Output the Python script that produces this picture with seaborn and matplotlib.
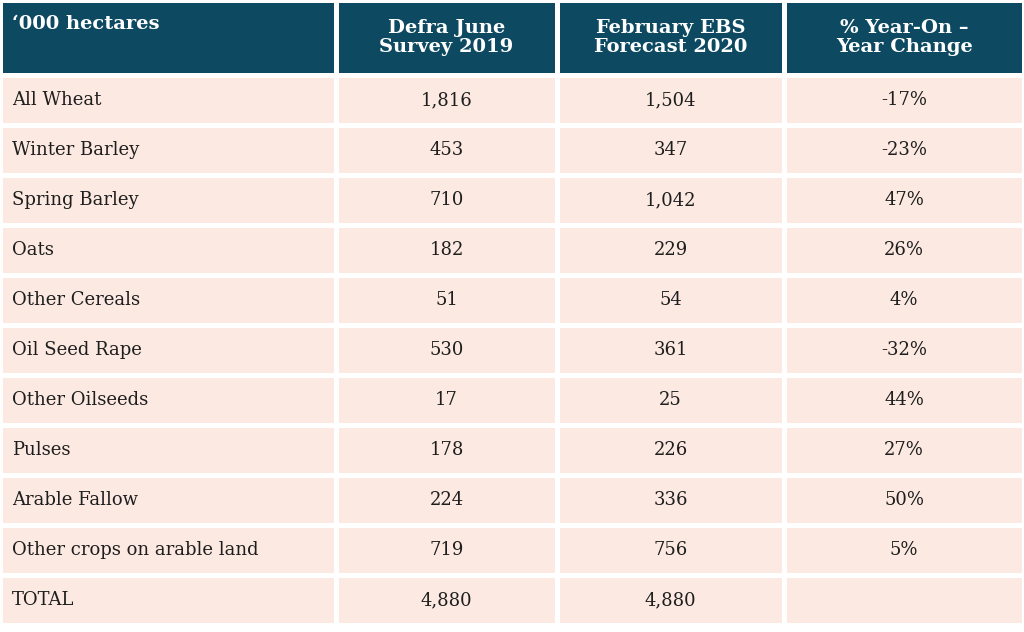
import numpy as np
import matplotlib
matplotlib.use("Agg")
import seaborn as sns
from matplotlib import pyplot as plt

header = ["\u2018000 hectares", "Defra June\nSurvey 2019", "February EBS\nForecast 2020", "% Year-On \u2013\nYear Change"]
crops = ["All Wheat", "Winter Barley", "Spring Barley", "Oats", "Other Cereals", "Oil Seed Rape",
         "Other Oilseeds", "Pulses", "Arable Fallow", "Other crops on arable land", "TOTAL"]
survey_2019 = ["1,816", "453", "710", "182", "51", "530", "17", "178", "224", "719", "4,880"]
forecast_2020 = ["1,504", "347", "1,042", "229", "54", "361", "25", "226", "336", "756", "4,880"]
yoy_change = ["-17%", "-23%", "47%", "26%", "4%", "-32%", "44%", "27%", "50%", "5%", ""]

TEAL = "#0D4A61"
PINK = "#FCEAE2"
INK = "#1E1E1E"

sns.set_theme(style="white")
plt.rcParams["font.family"] = ["DejaVu Serif"]

x_edges = np.array([0, 336, 557, 784, 1024])
y_edges = np.array([0, 75] + [75 + 50 * (i + 1) for i in range(len(crops))])
cells = np.zeros((len(crops) + 1, 4))
cells[0, :] = 1

fig = plt.figure(figsize=(10.24, 6.32), dpi=100)
ax = fig.add_axes([0, 0, 1, 1])
ax.pcolormesh(x_edges, y_edges, cells, cmap=matplotlib.colors.ListedColormap([PINK, TEAL]),
              edgecolors="white", linewidth=2.5)
ax.set_xlim(0, 1024)
ax.set_ylim(632, 0)
ax.axis("off")

for j, label in enumerate(header):
    yc = (y_edges[0] + y_edges[1]) / 2
    if j == 0:
        ax.text(12, 24, label, ha="left", va="center", color="white", fontsize=14, fontweight="bold")
    else:
        ax.text((x_edges[j] + x_edges[j + 1]) / 2, yc, label, ha="center", va="center",
                color="white", fontsize=14, fontweight="bold", linespacing=1.1)

cols = [survey_2019, forecast_2020, yoy_change]
for i, crop in enumerate(crops):
    yc = (y_edges[i + 1] + y_edges[i + 2]) / 2
    ax.text(12, yc, crop, ha="left", va="center", color=INK, fontsize=13)
    for j, values in enumerate(cols, start=1):
        ax.text((x_edges[j] + x_edges[j + 1]) / 2, yc, values[i], ha="center", va="center",
                color=INK, fontsize=13)

fig.savefig("out.png", dpi=100, facecolor="white")
